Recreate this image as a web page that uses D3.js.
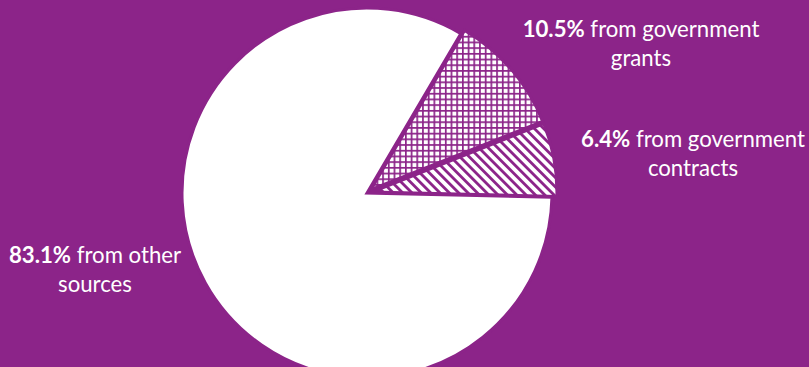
<!DOCTYPE html>
<html>
<head>
<meta charset="utf-8">
<script src="https://cdn.jsdelivr.net/npm/d3@7"></script>
<style>
  html, body { margin: 0; padding: 0; background: #8c2489; overflow: hidden; }
  svg { display: block; }
  text { font-family: "Lato", "Open Sans", sans-serif; fill: #ffffff; }
</style>
</head>
<body>
<svg id="chart" width="809" height="367"></svg>
<script>
// Funding sources, in percent
const categories = ["grants", "contracts", "other"];
const values = [10.5, 6.4, 83.1];
const percentLabels = ["10.5%", "6.4%", "83.1%"];
const firstLines = [" from government", " from government", " from other"];
const secondLines = ["grants", "contracts", "sources"];
const fills = ["url(#grid)", "url(#stripes)", "#ffffff"];
const explode = [5, 5, 0];

const W = 809, H = 367;
const bg = "#8c2489";
const cx = 367, cy = 193, radius = 185;

const svg = d3.select("#chart");
svg.append("rect").attr("width", W).attr("height", H).attr("fill", bg);

// hatch patterns for the two small slices
const defs = svg.append("defs");
const grid = defs.append("pattern")
  .attr("id", "grid").attr("patternUnits", "userSpaceOnUse")
  .attr("width", 5.7).attr("height", 5.7);
grid.append("rect").attr("width", 5.7).attr("height", 5.7).attr("fill", "#ffffff");
grid.append("rect").attr("width", 1.7).attr("height", 5.7).attr("fill", bg);
grid.append("rect").attr("width", 5.7).attr("height", 1.7).attr("fill", bg);

const stripes = defs.append("pattern")
  .attr("id", "stripes").attr("patternUnits", "userSpaceOnUse")
  .attr("width", 6.6).attr("height", 20)
  .attr("patternTransform", "rotate(-45)");
stripes.append("rect").attr("width", 6.6).attr("height", 20).attr("fill", "#ffffff");
stripes.append("rect").attr("width", 2.8).attr("height", 20).attr("fill", bg);

const deg = Math.PI / 180;
const pie = d3.pie().sort(null).value(d => d.value)
  .startAngle(30.5 * deg).endAngle(390.5 * deg);
const arc = d3.arc().innerRadius(0).outerRadius(radius);

const data = categories.map((c, i) => ({ key: c, value: values[i], i }));
const arcs = pie(data);

const g = svg.append("g").attr("transform", `translate(${cx},${cy})`);
g.selectAll("path")
  .data(arcs)
  .join("path")
  .attr("d", arc)
  .attr("transform", d => {
    const mid = (d.startAngle + d.endAngle) / 2;
    const off = explode[d.data.i];
    return `translate(${off * Math.sin(mid)},${-off * Math.cos(mid)})`;
  })
  .attr("fill", d => fills[d.data.i])
  .attr("stroke", bg)
  .attr("stroke-width", 3)
  .attr("stroke-linejoin", "miter");

// labels: bold percentage, regular description, second line centred below
const labelPos = [
  { x: 641, y: 37 },
  { x: 693, y: 147 },
  { x: 95, y: 263 }
];
const lineGap = 29;
const fontSize = 22.2;

categories.forEach((c, i) => {
  const p = labelPos[i];
  const t1 = svg.append("text")
    .attr("x", p.x).attr("y", p.y)
    .attr("text-anchor", "middle")
    .attr("font-size", fontSize);
  t1.append("tspan").attr("font-weight", "bold").text(percentLabels[i]);
  t1.append("tspan").text(firstLines[i]);
  svg.append("text")
    .attr("x", p.x).attr("y", p.y + lineGap)
    .attr("text-anchor", "middle")
    .attr("font-size", fontSize)
    .text(secondLines[i]);
});
</script>
</body>
</html>
